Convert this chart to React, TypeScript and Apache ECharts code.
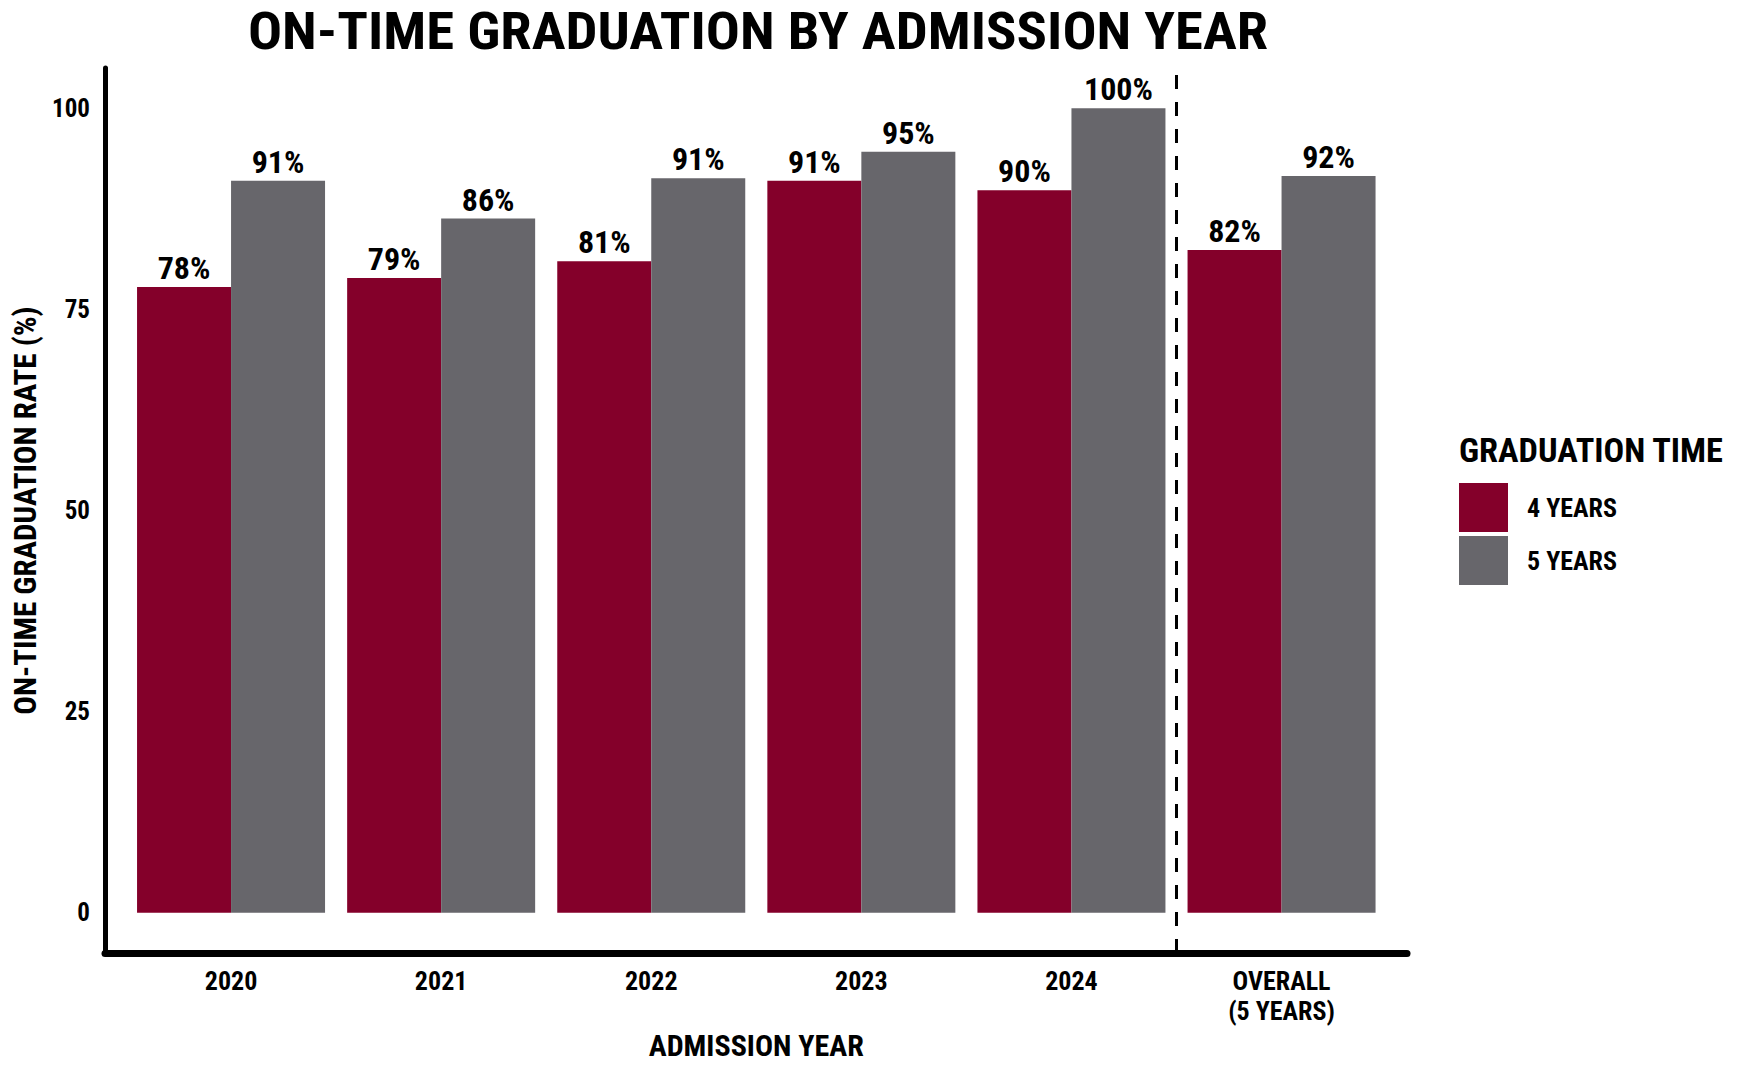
import { useEffect, useRef } from "react";
import * as echarts from "echarts";

// Graduation rates (%) by admission year
const categories = ["2020", "2021", "2022", "2023", "2024", "OVERALL\n(5 YEARS)"];
const fourYearRates = [77.8, 78.9, 81.0, 91.0, 89.8, 82.4];
const fiveYearRates = [91.0, 86.3, 91.3, 94.6, 100, 91.6];
const seriesNames = ["4 YEARS", "5 YEARS"];
const yMin = 0;
const yMax = 100;
const yInterval = 25;
// the dashed separator sits between "2024" and the overall group
const separatorAt = 5;

const FONT =
  "'Liberation Sans Narrow', 'Roboto Condensed', 'DejaVu Sans Condensed', sans-serif";
const RED = "#84002a";
const GREY = "#67666b";

export default function App() {
  const chartRef = useRef<HTMLDivElement>(null);

  useEffect(() => {
    if (!chartRef.current) return;
    const chart = echarts.init(chartRef.current, undefined, { renderer: "svg" });

    const bold = (size: number) => ({
      fontFamily: FONT,
      fontWeight: "bold",
      fontSize: size,
      color: "#000",
    });

    const barLabel = {
      ...bold(32),
      show: true,
      position: "top",
      distance: 3,
      formatter: (p: { value: number }) => `${Math.round(p.value)}%`,
    };

    chart.setOption({
      animation: false,
      textStyle: { fontFamily: FONT },
      graphic: [
        {
          type: "text",
          x: 758,
          y: 31,
          scaleX: 1.09,
          style: {
            text: "ON-TIME GRADUATION BY ADMISSION YEAR",
            fontFamily: FONT,
            fontWeight: "bold",
            fontSize: 52,
            lineHeight: 52,
            fill: "#000",
            textAlign: "center",
            textVerticalAlign: "middle",
          },
        },
        {
          type: "text",
          x: 1459,
          y: 451,
          scaleX: 1.04,
          style: {
            text: "GRADUATION TIME",
            fontFamily: FONT,
            fontWeight: "bold",
            fontSize: 33,
            fill: "#000",
            textAlign: "left",
            textVerticalAlign: "middle",
          },
        },
      ],
      legend: {
        data: seriesNames,
        orient: "vertical",
        left: 1459,
        top: 483,
        padding: 0,
        itemWidth: 49,
        itemHeight: 49,
        itemGap: 4,
        icon: "rect",
        textStyle: { ...bold(26), padding: [0, 0, 0, 14] },
      },
      grid: [
        // plot area for the bars (value 0..100)
        { left: 126, right: 373.4, top: 108.3, bottom: 163.2 },
        // outer frame that carries the axis lines
        { left: 105, right: 353, top: 68, bottom: 123 },
      ],
      xAxis: [
        {
          type: "category",
          gridIndex: 0,
          data: categories,
          axisLine: { show: false },
          axisTick: { show: false },
          axisLabel: { ...bold(26), margin: 53, lineHeight: 30 },
          name: "ADMISSION YEAR",
          nameLocation: "middle",
          nameGap: 113,
          nameTextStyle: bold(30),
        },
        {
          type: "value",
          gridIndex: 1,
          min: -0.1,
          max: categories.length + 0.1,
          axisLine: { show: true, onZero: false, lineStyle: { color: "#000", width: 7 } },
          axisTick: { show: false },
          axisLabel: { show: false },
          splitLine: { show: false },
        },
      ],
      yAxis: [
        {
          type: "value",
          gridIndex: 0,
          min: yMin,
          max: yMax,
          interval: yInterval,
          axisLine: { show: false },
          axisTick: { show: false },
          splitLine: { show: false },
          axisLabel: { ...bold(25), margin: 36 },
          name: "ON-TIME GRADUATION RATE (%)",
          nameLocation: "middle",
          nameGap: 78,
          nameTextStyle: bold(31),
        },
        {
          type: "value",
          gridIndex: 1,
          min: -5,
          max: 105,
          axisLine: { show: true, onZero: false, lineStyle: { color: "#000", width: 5 } },
          axisTick: { show: false },
          axisLabel: { show: false },
          splitLine: { show: false },
        },
      ],
      series: [
        {
          name: seriesNames[0],
          type: "bar",
          xAxisIndex: 0,
          yAxisIndex: 0,
          data: fourYearRates,
          barWidth: 94,
          barGap: "0%",
          itemStyle: { color: RED },
          label: barLabel,
        },
        {
          name: seriesNames[1],
          type: "bar",
          xAxisIndex: 0,
          yAxisIndex: 0,
          data: fiveYearRates,
          barWidth: 94,
          barGap: "0%",
          itemStyle: { color: GREY },
          label: barLabel,
        },
        {
          name: "separator",
          type: "line",
          xAxisIndex: 1,
          yAxisIndex: 1,
          data: [],
          silent: true,
          markLine: {
            silent: true,
            symbol: "none",
            label: { show: false },
            lineStyle: { color: "#000", width: 3, type: [14, 13] },
            data: [{ xAxis: separatorAt }],
          },
        },
      ],
    });

    return () => chart.dispose();
  }, []);

  return (
    <div
      ref={chartRef}
      style={{ position: "fixed", left: 0, top: 0, width: 1760, height: 1076, background: "#fff" }}
    />
  );
}
